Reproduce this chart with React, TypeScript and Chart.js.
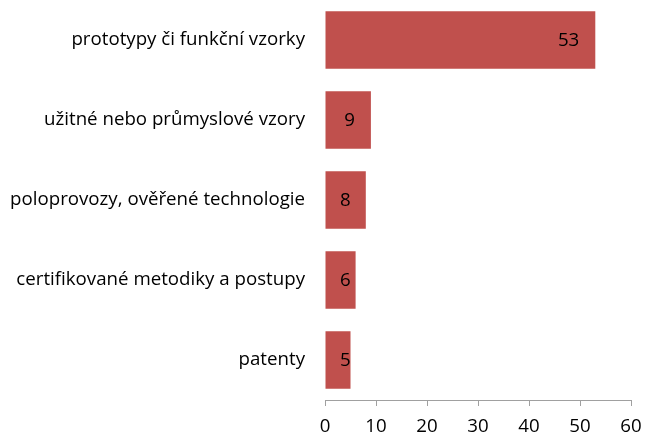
import React, { useEffect, useRef } from "react";
import { Chart, registerables } from "chart.js";

Chart.register(...registerables);

const categories = [
  "prototypy či funkční vzorky",
  "užitné nebo průmyslové vzory",
  "poloprovozy, ověřené technologie",
  "certifikované metodiky a postupy",
  "patenty",
];
const values = [53, 9, 8, 6, 5];
const xTicks = [0, 10, 20, 30, 40, 50, 60];

const FONT = "'Open Sans', 'Noto Sans', sans-serif";
const FSIZE = 18.7;

const labelPlugin = {
  id: "barLabels",
  afterDatasetsDraw(chart: any) {
    const ctx = chart.ctx;
    const meta = chart.getDatasetMeta(0);
    ctx.save();
    ctx.font = `${FSIZE}px ${FONT}`;
    ctx.fillStyle = "#000";
    ctx.textBaseline = "middle";
    ctx.textAlign = "left";
    meta.data.forEach((bar: any, i: number) => {
      const txt = String(values[i]);
      const w = ctx.measureText(txt).width;
      const left = Math.max(bar.x - 16 - w, chart.chartArea.left + 15);
      ctx.fillText(txt, left, bar.y + 1);
    });
    ctx.restore();
  },
};

export default function App() {
  const ref = useRef<HTMLCanvasElement>(null);
  useEffect(() => {
    if (!ref.current) return;
    const chart = new Chart(ref.current, {
      type: "bar",
      data: {
        labels: categories,
        datasets: [
          {
            data: values,
            backgroundColor: "#C0504D",
            borderWidth: 0,
            categoryPercentage: 1,
            barPercentage: 0.72,
          },
        ],
      },
      options: {
        indexAxis: "y",
        animation: false,
        responsive: false,
        maintainAspectRatio: false,
        layout: { padding: { top: 0, right: 16, bottom: 0, left: 0 } },
        plugins: { legend: { display: false }, tooltip: { enabled: false } },
        scales: {
          x: {
            min: 0,
            max: 60,
            afterBuildTicks: (scale: any) => {
              scale.ticks = xTicks.map((v) => ({ value: v }));
            },
            grid: {
              drawOnChartArea: false,
              drawTicks: true,
              tickLength: 6,
              color: "#A0A0A0",
            },
            border: { display: true, color: "#A0A0A0", width: 1 },
            ticks: {
              color: "#000",
              font: { family: FONT, size: FSIZE },
              padding: 9,
              maxRotation: 0,
            },
            afterFit: (scale: any) => {
              scale.height = 35;
              scale.paddingLeft = 0;
              scale.paddingRight = 0;
            },
          },
          y: {
            grid: { display: false, tickLength: 0 },
            border: { display: false },
            ticks: {
              color: "#000",
              font: { family: FONT, size: FSIZE },
              padding: 20,
            },
            afterFit: (scale: any) => {
              scale.width = 325;
              scale.paddingTop = 0;
              scale.paddingBottom = 0;
            },
          },
        },
      },
      plugins: [labelPlugin],
    });
    return () => chart.destroy();
  }, []);
  return (
    <div style={{ position: "fixed", left: 0, top: 0, width: 647, height: 435, background: "#fff" }}>
      <canvas ref={ref} width={647} height={435} style={{ display: "block" }} />
    </div>
  );
}
